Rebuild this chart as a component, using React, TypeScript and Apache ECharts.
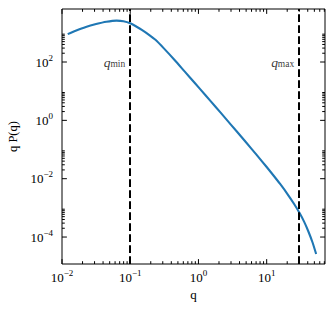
import React, { useEffect, useRef } from "react";
import * as echarts from "echarts";

// curve q vs q P(q)
const qValues = [
  0.01213, 0.01585, 0.02239, 0.03162, 0.04467, 0.0631, 0.07943, 0.1, 0.1259,
  0.1479, 0.1862, 0.2344, 0.3162, 0.4467, 0.631, 0.8913, 1.259, 1.778, 2.512,
  3.548, 5.012, 7.079, 10, 12.59, 15.85, 19.95, 25.12, 30.2, 35.48, 40.74,
  46.77, 53.09,
];
const qPValues = [
  901.6, 1175, 1585, 1995, 2399, 2630, 2512, 2138, 1585, 1259, 871, 575, 281.8,
  117.5, 46.77, 18.62, 7.413, 2.917, 1.148, 0.4467, 0.1738, 0.06683, 0.02512,
  0.01288, 0.006457, 0.00309, 0.00138, 0.000676, 0.000331, 0.000158, 0.0000676,
  0.0000263,
];

// vertical reference lines and their labels
const cutValues = [0.1, 30];
const cutNames = ["min", "max"];
const cutLabelY = 100;

// axis ranges and ticks
const xRange = [0.01, 71.6];
const yRange = [1.19e-5, 6560];
const xMajor = [0.01, 0.1, 1, 10];
const yMajor = [1e-4, 1e-2, 1, 100];
const xMinorDecades = [0.01, 0.1, 1, 10];
const yMinorDecades = [1e-4, 1e-2, 1, 100];
const minorSubs = [2, 3, 4, 5, 6, 7, 8, 9];

const FONT = "Liberation Serif";
const MAJOR_LEN = 4.9;
const MINOR_LEN = 2.8;

function supLabel(v: number, evenOnly: boolean): string {
  const l = Math.log10(v);
  const e = Math.round(l);
  if (Math.abs(l - e) > 1e-6) return "";
  if (evenOnly && e % 2 !== 0) return "";
  const s = e < 0 ? "\u2212" + Math.abs(e) : String(e);
  return "{b|10}{sup|" + s + "}";
}

const richTick = {
  b: { fontSize: 13, lineHeight: 18, fontFamily: FONT, color: "#000" },
  sup: {
    fontSize: 9,
    lineHeight: 10,
    verticalAlign: "top",
    fontFamily: FONT,
    color: "#000",
  },
};

export default function App() {
  const ref = useRef<HTMLDivElement>(null);

  useEffect(() => {
    if (!ref.current) return;
    const chart = echarts.init(ref.current, undefined, { renderer: "svg" });

    const inX = (v: number) => v >= xRange[0] - 1e-12 && v <= xRange[1];
    const inY = (v: number) => v >= yRange[0] && v <= yRange[1];

    const xTickData: number[][] = [];
    xMajor.filter(inX).forEach((v) => xTickData.push([v, 1, MAJOR_LEN]));
    xMinorDecades.forEach((d) =>
      minorSubs.forEach((s) => {
        const v = s * d;
        if (inX(v)) xTickData.push([v, 1, MINOR_LEN]);
      })
    );
    const yTickData: number[][] = [];
    yMajor.filter(inY).forEach((v) => yTickData.push([1, v, MAJOR_LEN]));
    yMinorDecades.forEach((d) =>
      minorSubs.forEach((s) => {
        const v = s * d;
        if (inY(v)) yTickData.push([1, v, MINOR_LEN]);
      })
    );

    const tickStyle = { stroke: "#000", lineWidth: 1 };

    chart.setOption({
      animation: false,
      grid: {
        left: 62,
        right: 10,
        top: 9,
        bottom: 52,
        containLabel: false,
        outerBoundsMode: "none",
        show: true,
        borderColor: "#000",
        borderWidth: 1,
        backgroundColor: "transparent",
      },
      xAxis: {
        type: "log",
        logBase: 10,
        min: xRange[0],
        max: xRange[1],
        name: "q",
        nameLocation: "middle",
        nameGap: 20,
        nameTextStyle: { fontFamily: FONT, fontSize: 13, color: "#000" },
        axisLine: { show: false },
        axisTick: { show: false },
        splitLine: { show: false },
        minorTick: { show: false },
        axisLabel: {
          margin: 4,
          color: "#000",
          formatter: (v: number) => supLabel(v, false),
          rich: richTick,
          showMinLabel: true,
          showMaxLabel: true,
        },
      },
      yAxis: {
        type: "log",
        logBase: 10,
        min: yRange[0],
        max: yRange[1],
        name: "q P(q)",
        nameLocation: "middle",
        nameGap: 40,
        nameTextStyle: { fontFamily: FONT, fontSize: 12.5, color: "#000" },
        axisLine: { show: false },
        axisTick: { show: false },
        splitLine: { show: false },
        minorTick: { show: false },
        axisLabel: {
          margin: 9,
          color: "#000",
          formatter: (v: number) => supLabel(v, true),
          rich: richTick,
        },
      },
      series: [
        {
          type: "line",
          data: qValues.map((q, i) => [q, qPValues[i]]),
          showSymbol: false,
          smooth: 0.25,
          lineStyle: { color: "#1f77b4", width: 2.1 },
          itemStyle: { color: "#1f77b4" },
          z: 3,
          markLine: {
            silent: true,
            symbol: ["none", "none"],
            label: { show: false },
            lineStyle: { color: "#000", width: 2, type: [7.7, 3.3] },
            data: cutValues.map((v) => ({ xAxis: v })),
          },
        },
        {
          type: "scatter",
          symbolSize: 0,
          silent: true,
          data: cutValues.map((v, i) => ({
            value: [v, cutLabelY],
            name: cutNames[i],
          })),
          label: {
            show: true,
            position: "left",
            distance: 5,
            formatter: (p: any) => "{q|q}{s|" + p.name + "}",
            rich: {
              q: {
                fontFamily: FONT,
                fontStyle: "italic",
                fontSize: 13.5,
                lineHeight: 14,
                color: "#000",
              },
              s: {
                fontFamily: FONT,
                fontSize: 9.5,
                lineHeight: 10,
                verticalAlign: "bottom",
                color: "#000",
              },
            },
          },
        },
        {
          type: "custom",
          silent: true,
          z: 5,
          data: xTickData,
          renderItem: (params: any, api: any) => {
            const cs = params.coordSys;
            const px = api.coord([api.value(0), api.value(1)])[0];
            const len = api.value(2);
            const top = cs.y;
            const bottom = cs.y + cs.height;
            return {
              type: "group",
              children: [
                {
                  type: "line",
                  shape: { x1: px, y1: bottom, x2: px, y2: bottom - len },
                  style: tickStyle,
                },
                {
                  type: "line",
                  shape: { x1: px, y1: top, x2: px, y2: top + len },
                  style: tickStyle,
                },
              ],
            };
          },
        },
        {
          type: "custom",
          silent: true,
          z: 5,
          data: yTickData,
          renderItem: (params: any, api: any) => {
            const cs = params.coordSys;
            const py = api.coord([api.value(0), api.value(1)])[1];
            const len = api.value(2);
            const left = cs.x;
            const right = cs.x + cs.width;
            return {
              type: "group",
              children: [
                {
                  type: "line",
                  shape: { x1: left, y1: py, x2: left + len, y2: py },
                  style: tickStyle,
                },
                {
                  type: "line",
                  shape: { x1: right, y1: py, x2: right - len, y2: py },
                  style: tickStyle,
                },
              ],
            };
          },
        },
      ],
    });

    return () => chart.dispose();
  }, []);

  return (
    <div
      ref={ref}
      style={{
        position: "fixed",
        left: 0,
        top: 0,
        width: 335,
        height: 316,
        background: "#fff",
      }}
    />
  );
}
